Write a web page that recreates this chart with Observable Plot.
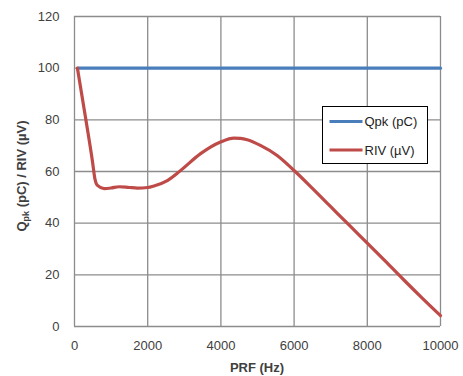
<!DOCTYPE html>
<html>
<head>
<meta charset="utf-8">
<script src="https://cdn.jsdelivr.net/npm/d3@7"></script>
<script src="https://cdn.jsdelivr.net/npm/@observablehq/plot@0.6"></script>
<style>
  html, body { margin: 0; padding: 0; background: #fff; }
  #chart { width: 463px; height: 376px; }
</style>
</head>
<body>
<div id="chart"></div>
<script>
const seriesNames = ["Qpk (pC)", "RIV (µV)"];
const seriesColors = ["#4a7ebb", "#be4b48"];

const qpkPRF = [100, 10000];
const qpkValues = [100, 100];

const rivPRF = [80, 300, 490, 560, 627, 808, 1000, 1217, 1500, 1718, 2000, 2172, 2536, 2900, 3445, 3990, 4354, 4535, 4718, 5080, 5536, 6000, 6500, 7000, 7500, 8000, 8500, 9000, 9500, 10000];
const rivValues = [100, 81, 64, 57, 54.6, 53.4, 53.6, 54.1, 53.8, 53.6, 53.8, 54.4, 56.5, 60.4, 66.9, 71.4, 72.9, 72.8, 72.3, 70.1, 66.2, 60.4, 53.5, 46.4, 39.3, 32.3, 25.2, 18, 11, 4.2];

const xTicks = [0, 2000, 4000, 6000, 8000, 10000];
const yTicks = [0, 20, 40, 60, 80, 100, 120];
const xTitle = "PRF (Hz)";

const qpk = qpkPRF.map((x, i) => ({x, y: qpkValues[i]}));
const riv = rivPRF.map((x, i) => ({x, y: rivValues[i]}));

const font = "'Liberation Sans', Arial, sans-serif";
const gridColor = "#8c8c8c";

const plot = Plot.plot({
  width: 463,
  height: 376,
  marginLeft: 74,
  marginRight: 23,
  marginTop: 16,
  marginBottom: 50,
  style: {fontFamily: font, fontSize: "13px", color: "#404040", background: "#fff"},
  x: {domain: [0, 10000], ticks: xTicks, tickFormat: d => String(d)},
  y: {domain: [0, 120], ticks: yTicks},
  marks: [
    Plot.ruleX(xTicks, {stroke: gridColor, strokeWidth: 1.3}),
    Plot.ruleY(yTicks, {stroke: gridColor, strokeWidth: 1.3}),
    Plot.axisX({ticks: xTicks, tickSize: 0, tickPadding: 14, tickFormat: d => String(d), label: null, fontSize: 13}),
    Plot.axisY({ticks: yTicks, tickSize: 0, tickPadding: 15, label: null, fontSize: 13}),
    Plot.line(qpk, {x: "x", y: "y", stroke: seriesColors[0], strokeWidth: 3.2}),
    Plot.line(riv, {x: "x", y: "y", stroke: seriesColors[1], strokeWidth: 3.2, curve: "monotone-x"})
  ]
});

document.getElementById("chart").appendChild(plot);

const svg = d3.select(plot);

// x-axis title
svg.append("text")
  .attr("x", 257).attr("y", 372)
  .attr("text-anchor", "middle")
  .attr("font-family", font).attr("font-size", 13).attr("font-weight", "bold")
  .attr("fill", "#404040")
  .text(xTitle);

// y-axis title with subscript
const yt = svg.append("text")
  .attr("transform", "translate(26,176) rotate(-90)")
  .attr("text-anchor", "middle")
  .attr("font-family", font).attr("font-size", 13).attr("font-weight", "bold")
  .attr("fill", "#404040");
yt.append("tspan").text("Q");
yt.append("tspan").attr("font-size", 9).attr("dy", 3).text("pk");
yt.append("tspan").attr("dy", -3).text(" (pC) / RIV (µV)");

// legend
const lg = svg.append("g").attr("transform", "translate(322.5,106.5)");
lg.append("rect").attr("width", 105).attr("height", 57)
  .attr("fill", "#fff").attr("stroke", "#000").attr("stroke-width", 1);
seriesNames.forEach((name, i) => {
  const yy = 15 + i * 28.5;
  lg.append("line").attr("x1", 7).attr("x2", 40).attr("y1", yy).attr("y2", yy)
    .attr("stroke", seriesColors[i]).attr("stroke-width", 3.2);
  lg.append("text").attr("x", 42).attr("y", yy).attr("dy", "0.35em")
    .attr("text-anchor", "start")
    .attr("font-family", font).attr("font-size", 13).attr("fill", "#222")
    .text(name);
});
</script>
</body>
</html>
